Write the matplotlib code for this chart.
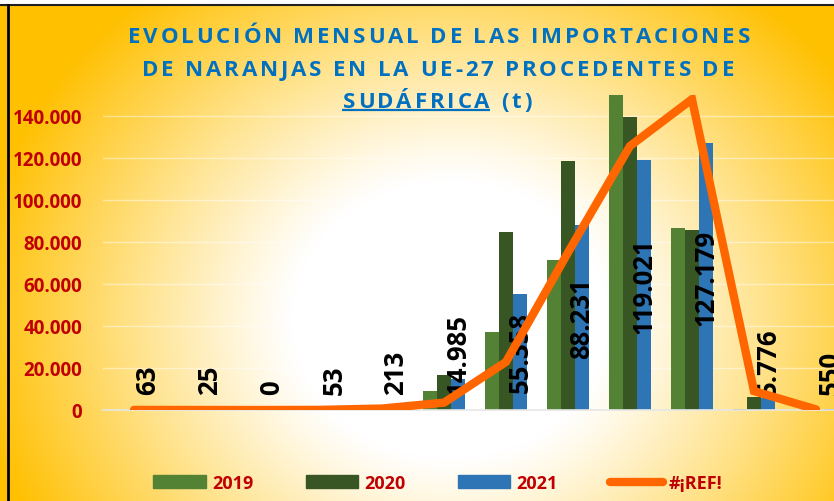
import numpy as np
import matplotlib
matplotlib.use('Agg')
import matplotlib.pyplot as plt
from matplotlib import font_manager
from matplotlib.font_manager import FontProperties
from matplotlib.lines import Line2D
from matplotlib.patches import Patch

# ---------------- data ----------------
months = ['Ene', 'Feb', 'Mar', 'Abr', 'May', 'Jun', 'Jul', 'Ago', 'Sep', 'Oct', 'Nov', 'Dic']
v2019 = [40, 15, 0, 80, 500, 9000, 37000, 71400, 150500, 86700, 500, 0]
v2020 = [30, 10, 0, 40, 700, 16700, 84800, 118600, 139500, 85700, 6200, 0]
v2021 = [63, 25, 0, 53, 213, 14985, 55358, 88231, 119021, 127179, 5776, 550]
vref = [50, 20, 0, 60, 700, 3500, 22900, 75000, 125700, 148000, 9000, 300]
series_names = ['2019', '2020', '2021', '#¡REF!']
yticks = [0, 20000, 40000, 60000, 80000, 100000, 120000, 140000]
ytick_labels = ['0', '20.000', '40.000', '60.000', '80.000', '100.000', '120.000', '140.000']
title_lines = ['EVOLUCIÓN MENSUAL DE LAS IMPORTACIONES',
               'DE NARANJAS EN LA UE-27 PROCEDENTES DE',
               'SUDÁFRICA (t)']

# ---------------- styles ----------------
W, H = 834, 502
C19, C20, C21, CREF = '#548235', '#375623', '#2E75B6', '#FF6600'
RED = '#C00000'
BLUE_T = '#0070C0'
FAM = ['Open Sans', 'DejaVu Sans']

fig = plt.figure(figsize=(W / 100, H / 100), dpi=100)

# background gradient
bg = fig.add_axes([0, 0, 1, 1], zorder=-10)
bg.set_axis_off()
yy, xx = np.mgrid[0:H, 0:W]
t = np.sqrt(((xx - 450) / 480.0) ** 2 + ((yy - 320) / 420.0) ** 2)
f = np.clip((t - 0.33) / (1 - 0.33), 0, 1) ** 1.1
white = np.array([1.0, 1.0, 1.0])
edge = np.array([255, 192, 0]) / 255.0
img = white[None, None, :] * (1 - f[..., None]) + edge[None, None, :] * f[..., None]
bg.imshow(img, extent=(0, W, H, 0), aspect='auto', interpolation='bilinear')
bg.set_xlim(0, W)
bg.set_ylim(H, 0)
bg.add_patch(plt.Rectangle((0, 0), W, 5, color='white', lw=0))
bg.plot([0, W], [6, 6], color='#202020', lw=1.5)
bg.plot([8, 8], [6, H], color='black', lw=2)

# main axes
ax_left, ax_bottom = 103 / W, (H - 411) / H
ax_w, ax_h = 744 / W, 315 / H
ax = fig.add_axes([ax_left, ax_bottom, ax_w, ax_h])
ax.set_facecolor('none')
x = np.arange(len(months))
w = 0.225
ax.bar(x - w, v2019, w, color=C19, zorder=2)
ax.bar(x, v2020, w, color=C20, zorder=2)
ax.bar(x + w, v2021, w, color=C21, zorder=2)
ax.plot(x, vref, color=CREF, lw=6, solid_capstyle='round', solid_joinstyle='miter', zorder=5)

ax.set_xlim(-0.5, len(months) - 0.5)
ax.set_ylim(0, 150000)
ax.set_yticks(yticks)
ax.set_yticklabels(ytick_labels)
ax.set_xticks([])
for s in ['top', 'right', 'left']:
    ax.spines[s].set_visible(False)
ax.spines['bottom'].set_color('#E6E6E6')
ax.spines['bottom'].set_linewidth(1.2)
ax.tick_params(axis='y', length=0, pad=15)
for lab in ax.get_yticklabels():
    lab.set_family(FAM)
    lab.set_fontweight('bold')
    lab.set_fontsize(13.5)
    lab.set_color(RED)
for yv in yticks[1:]:
    ax.axhline(yv, color='white', lw=1, alpha=0.45, zorder=1)

# data labels (2021 values)
def fmt(v):
    return f'{v:,}'.replace(',', '.')

labels = []
for xi, v in zip(x, v2021):
    tx = ax.text(xi + w, v / 2, fmt(v), rotation=90, ha='center', va='center',
                 family=FAM, fontweight='bold', fontsize=18.5, color='black', zorder=4)
    labels.append(tx)

fig.canvas.draw()
rend = fig.canvas.get_renderer()
inv = ax.transData.inverted()
thr = 7600
for tx in labels:
    bb = tx.get_window_extent(rend)
    y0 = inv.transform((0, bb.y0))[1]
    if y0 < thr:
        xp, yp = tx.get_position()
        tx.set_position((xp, yp + (thr - y0)))

# title with letter spacing
fp = FontProperties(family=FAM, weight='bold', size=16)
fs = 16
def char_adv(ch):
    tt = fig.text(0, 0, 'H' + ch + 'H', fontproperties=fp)
    tt2 = fig.text(0, 0, 'HH', fontproperties=fp)
    b1 = tt.get_window_extent(rend).width
    b2 = tt2.get_window_extent(rend).width
    tt.remove(); tt2.remove()
    return b1 - b2

adv_cache = {}
def adv(ch):
    if ch not in adv_cache:
        adv_cache[ch] = char_adv(ch)
    return adv_cache[ch]

line1 = title_lines[0]
nat1 = sum(adv(c) for c in line1)
track = (622 - nat1) / (len(line1) - 1)

baselines = [43, 76, 108]
centers = [439, 438, 437]
for line, base, cx in zip(title_lines, baselines, centers):
    total = sum(adv(c) for c in line) + track * (len(line) - 1)
    xs = cx - total / 2
    cur = xs
    und_end = None
    for i, c in enumerate(line):
        if c != ' ':
            fig.text(cur / W, 1 - base / H, c, fontproperties=fp, color=BLUE_T,
                     ha='left', va='baseline')
        cur += adv(c) + track
        if line.startswith('SUDÁFRICA') and i == len('SUDÁFRICA') - 1:
            und_end = cur - track
    if und_end is not None:
        bg.plot([xs, und_end], [base + 2.5, base + 2.5], color=BLUE_T, lw=1.6,
                solid_capstyle='butt')

# legend
handles = [Patch(color=C19), Patch(color=C20), Patch(color=C21),
           Line2D([0], [0], color=CREF, lw=6, solid_capstyle='round')]
leg = fig.legend(handles, series_names, loc='center',
                 bbox_to_anchor=(438 / W, 1 - 484 / H), ncol=4, frameon=False,
                 handlelength=2.9, handleheight=0.7, handletextpad=0.35,
                 columnspacing=2.9,
                 prop=FontProperties(family=FAM, weight='bold', size=13))
for tt in leg.get_texts():
    tt.set_color(RED)

fig.savefig('out.png', dpi=100)
